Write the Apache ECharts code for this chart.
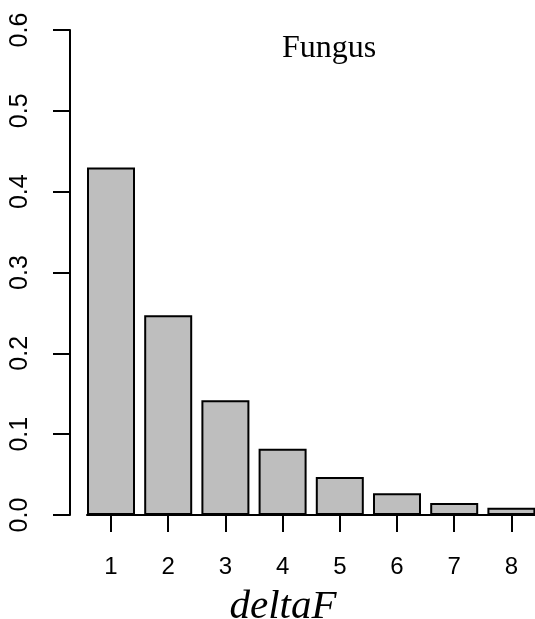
<!DOCTYPE html>
<html>
<head>
<meta charset="utf-8">
<script src="https://cdn.jsdelivr.net/npm/echarts@6/dist/echarts.min.js"></script>
<style>
html,body{margin:0;padding:0;background:#fff;}
#chart{width:535px;height:619px;}
</style>
</head>
<body>
<div id="chart"></div>
<script>
const categories = [1, 2, 3, 4, 5, 6, 7, 8];
const values = [0.430, 0.247, 0.142, 0.082, 0.047, 0.027, 0.015, 0.009];
const yTicks = [0, 0.1, 0.2, 0.3, 0.4, 0.5, 0.6];
const titleText = 'Fungus';
const xLabel = 'deltaF';

const chart = echarts.init(document.getElementById('chart'), null, {renderer: 'canvas'});
const option = {
  animation: false,
  backgroundColor: '#ffffff',
  grid: {left: 87, right: 0, top: 30, bottom: 104, containLabel: false, outerBoundsMode: 'none'},
  xAxis: {
    type: 'value',
    min: 0.5804,
    max: 8.4126,
    splitLine: {show: false},
    axisLine: {show: true, onZero: false, lineStyle: {color: '#000', width: 2}},
    axisTick: {show: true, customValues: categories, length: 17, lineStyle: {color: '#000', width: 2}},
    axisLabel: {show: true, customValues: categories, margin: 40, color: '#000', fontSize: 24, fontFamily: 'Liberation Sans, Arial, sans-serif'},
    name: xLabel,
    nameLocation: 'middle',
    nameGap: 72,
    nameTextStyle: {fontFamily: 'Liberation Serif, Times New Roman, serif', fontStyle: 'italic', fontSize: 41, color: '#000', padding: [0, 56, 0, 0]}
  },
  yAxis: {
    type: 'value',
    min: 0,
    max: 0.6,
    interval: 0.1,
    offset: 17,
    splitLine: {show: false},
    axisLine: {show: true, lineStyle: {color: '#000', width: 2}},
    axisTick: {show: true, length: 17, lineStyle: {color: '#000', width: 2}},
    axisLabel: {
      rotate: 90, margin: 37, color: '#000', fontSize: 25,
      fontFamily: 'Liberation Sans, Arial, sans-serif',
      formatter: v => v.toFixed(1)
    }
  },
  title: {
    text: titleText,
    left: 277,
    top: 28,
    textStyle: {fontFamily: 'Liberation Serif, Times New Roman, serif', fontWeight: 'normal', fontSize: 32, color: '#000'}
  },
  series: [{
    type: 'bar',
    data: categories.map((c, i) => [c, values[i]]),
    barWidth: 48,
    itemStyle: {color: '#bebebe', borderColor: '#000', borderWidth: 2}
  }]
};
chart.setOption(option);
</script>
</body>
</html>
